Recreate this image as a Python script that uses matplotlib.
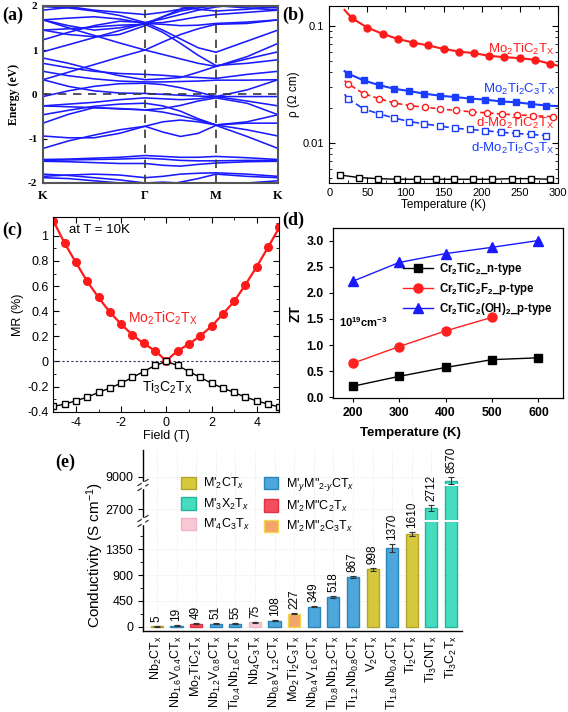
import numpy as np
import matplotlib
matplotlib.use('Agg')
import matplotlib.pyplot as plt
from matplotlib.lines import Line2D
from matplotlib.patches import Patch

plt.rcParams['font.family'] = ['Liberation Sans', 'DejaVu Sans']
plt.rcParams['mathtext.fontset'] = 'custom'
plt.rcParams['mathtext.rm'] = 'Liberation Sans'
plt.rcParams['mathtext.it'] = 'Liberation Sans:italic'
plt.rcParams['mathtext.bf'] = 'Liberation Sans:bold'
plt.rcParams['axes.unicode_minus'] = False

W, H = 568, 712
fig = plt.figure(figsize=(W / 100, H / 100), dpi=100)


def add_ax(l, t, r, b):
    return fig.add_axes([l / W, 1 - b / H, (r - l) / W, (b - t) / H])


SERIF = ['Liberation Serif', 'DejaVu Serif']

# ---------------- (a) band structure ----------------
kpath = [0, 0.1085, 0.217, 0.3255, 0.434, 0.5095, 0.585, 0.6605, 0.736, 0.868, 1.0]
kticks = [0, 0.434, 0.736, 1.0]
klabels = ['K', 'Γ', 'M', 'K']
bands = [
    [1.98, 1.95, 1.88, 1.78, 1.62, 1.70, 1.80, 1.90, 1.97, 2.05, 2.05],
    [1.90, 1.96, 2.05, 2.10, 2.10, 2.05, 1.98, 1.92, 1.88, 1.92, 1.98],
    [2.05, 1.98, 1.90, 1.85, 1.80, 1.85, 1.92, 1.98, 2.02, 1.98, 1.95],
    [1.68, 1.72, 1.75, 1.70, 1.60, 1.62, 1.68, 1.75, 1.80, 1.85, 1.90],
    [1.68, 1.55, 1.45, 1.50, 1.60, 1.58, 1.55, 1.56, 1.60, 1.63, 1.68],
    [1.45, 1.35, 1.30, 1.35, 1.55, 1.75, 1.92, 2.05, 2.10, 2.10, 2.10],
    [1.45, 1.48, 1.52, 1.56, 1.58, 1.40, 1.15, 0.88, 0.65, 0.70, 0.78],
    [1.23, 1.40, 1.55, 1.65, 1.62, 1.45, 1.25, 1.05, 0.95, 1.20, 1.45],
    [0.96, 1.12, 1.28, 1.44, 1.60, 1.75, 1.88, 1.95, 2.00, 1.95, 1.90],
    [1.68, 1.50, 1.33, 1.16, 1.00, 0.90, 0.80, 0.70, 0.63, 0.85, 1.15],
    [0.33, 0.50, 0.67, 0.84, 1.00, 1.18, 1.35, 1.48, 1.58, 1.60, 1.68],
    [0.70, 0.60, 0.52, 0.47, 0.45, 0.43, 0.40, 0.38, 0.36, 0.45, 0.52],
    [0.52, 0.42, 0.35, 0.30, 0.28, 0.28, 0.29, 0.30, 0.32, 0.32, 0.33],
    [0.82, 0.70, 0.55, 0.42, 0.33, 0.35, 0.38, 0.50, 0.63, 0.80, 0.96],
    [-0.05, 0.08, 0.18, 0.24, 0.25, 0.22, 0.15, 0.05, -0.05, 0.10, 0.33],
    [0.33, 0.18, 0.08, 0.03, 0.02, 0.00, -0.02, -0.04, -0.05, -0.05, -0.05],
    [-0.26, -0.22, -0.18, -0.12, -0.08, -0.10, -0.12, -0.10, -0.05, -0.15, -0.26],
    [-0.46, -0.36, -0.27, -0.22, -0.20, -0.26, -0.38, -0.55, -0.69, -0.62, -0.46],
    [-0.26, -0.28, -0.30, -0.33, -0.35, -0.32, -0.25, -0.15, -0.08, -0.20, -0.46],
    [-0.65, -0.45, -0.30, -0.32, -0.35, -0.40, -0.48, -0.58, -0.69, -0.80, -0.94],
    [-1.22, -1.05, -0.92, -0.80, -0.72, -0.85, -0.95, -0.88, -0.70, -0.95, -1.22],
    [-0.94, -0.98, -0.98, -0.88, -0.72, -0.62, -0.58, -0.62, -0.69, -0.65, -0.65],
    [-1.47, -1.46, -1.44, -1.42, -1.38, -1.40, -1.42, -1.42, -1.40, -1.43, -1.47],
    [-1.49, -1.48, -1.47, -1.46, -1.44, -1.46, -1.49, -1.50, -1.50, -1.49, -1.49],
    [-1.51, -1.52, -1.54, -1.56, -1.56, -1.60, -1.62, -1.58, -1.55, -1.52, -1.51],
    [-1.85, -1.82, -1.80, -1.82, -1.88, -1.85, -1.80, -1.78, -1.77, -1.80, -1.85],
    [-1.88, -1.90, -1.95, -2.00, -2.05, -2.05, -1.98, -1.90, -1.80, -1.85, -1.88],
    [-1.80, -1.83, -1.88, -1.93, -2.00, -1.98, -2.00, -2.05, -2.10, -2.00, -1.95],
]

axa = add_ax(43, 5.7, 278, 183)
for b in bands:
    axa.plot(kpath, b, color='#1a1aff', lw=1.15)
axa.set_xlim(0, 1)
axa.set_ylim(-2, 2)
for xv in kticks[1:3]:
    axa.axvline(xv, color='#333333', ls=(0, (5, 4)), lw=1.2)
axa.axhline(0, color='#333344', ls=(0, (5, 4)), lw=1.2)
axa.set_xticks(kticks)
axa.set_xticklabels(klabels, fontfamily=SERIF, fontweight='bold', fontsize=9)
axa.set_yticks([-2, -1, 0, 1, 2])
axa.set_yticklabels(['-2', '-1', '0', '1', '2'], fontfamily=SERIF, fontweight='bold', fontsize=8)
axa.tick_params(axis='y', direction='in', length=3, pad=4)
axa.tick_params(axis='x', length=0, pad=5)
axa.set_ylabel('Energy (eV)', fontfamily=SERIF, fontweight='bold', fontsize=8.5, labelpad=6)
for s in axa.spines.values():
    s.set_color('#555555')
    s.set_linewidth(1.5)

# ---------------- (b) resistivity ----------------
T_b = [30, 50, 70, 90, 110, 130, 150, 170, 190, 210, 230, 250, 270, 290]
rho_mo2tic2 = [0.116, 0.0968, 0.0855, 0.0774, 0.0721, 0.068, 0.0636, 0.0604, 0.0584, 0.0555, 0.054, 0.053, 0.0513, 0.0474]
rho_mo2tic2_ends = [0.137, 0.0457]
T_b2 = [25, 45, 65, 85, 105, 125, 145, 165, 185, 205, 225, 245, 265, 285]
rho_mo2ti2c3 = [0.039, 0.0342, 0.0312, 0.029, 0.0277, 0.0263, 0.0253, 0.0246, 0.0239, 0.0234, 0.0226, 0.0222, 0.0215, 0.0208]
rho_mo2ti2c3_ends = [0.041, 0.0206]
T_b3 = [25, 45, 65, 85, 106, 126, 146, 166, 187, 207, 227, 247, 267, 294]
rho_d_mo2tic2 = [0.0319, 0.0263, 0.0239, 0.0219, 0.0208, 0.0201, 0.0195, 0.0189, 0.0184, 0.018, 0.0176, 0.0173, 0.0171, 0.0167]
rho_d_mo2tic2_start = 0.034
rho_d_mo2ti2c3 = [0.0237, 0.0195, 0.0177, 0.0163, 0.0152, 0.0145, 0.0139, 0.0133, 0.013, 0.0127, 0.0123, 0.012, 0.0118, 0.0115]
rho_d_mo2ti2c3_start = 0.026
T_b4 = [14, 39, 64, 89, 115, 140, 164, 189, 214, 240, 265, 290]
rho_ti3c2 = [0.0053, 0.00503, 0.00493, 0.00487, 0.00487, 0.00487, 0.00487, 0.00487, 0.00487, 0.00493, 0.00493, 0.00487]

RED = '#ff1a1a'
BLUE = '#1a3cff'
axb = add_ax(329.3, 5.7, 557.7, 182.7)
axb.set_yscale('log')
axb.plot([20] + T_b + [300], [rho_mo2tic2_ends[0]] + rho_mo2tic2 + [rho_mo2tic2_ends[1]], color=RED, lw=1.5)
axb.plot(T_b, rho_mo2tic2, 'o', color=RED, ms=5)
axb.plot([20] + T_b2 + [300], [rho_mo2ti2c3_ends[0]] + rho_mo2ti2c3 + [rho_mo2ti2c3_ends[1]], color=BLUE, lw=1.5)
axb.plot(T_b2, rho_mo2ti2c3, 's', color=BLUE, ms=4.5)
axb.plot([20] + T_b3, [rho_d_mo2tic2_start] + rho_d_mo2tic2, color=RED, lw=1.2, ls=(0, (3, 2)))
axb.plot(T_b3, rho_d_mo2tic2, 'o', mfc='white', mec=RED, ms=4.5, mew=1.0)
axb.plot([20] + T_b2, [rho_d_mo2ti2c3_start] + rho_d_mo2ti2c3, color=BLUE, lw=1.2, ls=(0, (4, 2, 1, 2)))
axb.plot(T_b2, rho_d_mo2ti2c3, 's', mfc='white', mec=BLUE, ms=4.2, mew=1.0)
axb.plot(T_b4, rho_ti3c2, color='black', lw=1.0)
axb.plot(T_b4, rho_ti3c2, 's', mfc='white', mec='black', ms=4.2, mew=1.0)
axb.set_xlim(0, 300)
axb.set_ylim(0.00455, 0.149)
axb.set_xticks([0, 50, 100, 150, 200, 250, 300])
axb.set_yticks([0.01, 0.1])
axb.set_yticklabels(['0.01', '0.1'])
axb.tick_params(which='both', direction='in', top=True, right=True, labelsize=8)
axb.tick_params(which='major', length=4)
axb.tick_params(which='minor', length=2)
axb.set_xticks(np.arange(0, 301, 25), minor=True)
axb.set_xlabel('Temperature (K)', fontsize=8.5, labelpad=1)
axb.set_ylabel('ρ (Ω cm)', fontsize=8.5, labelpad=2)
lab_kw = dict(ha='right', va='center', fontsize=9.5)
axb.text(296, 0.0624, 'Mo$_2$TiC$_2$T$_\\mathrm{X}$', color=RED, **lab_kw)
axb.text(296, 0.0285, 'Mo$_2$Ti$_2$C$_3$T$_\\mathrm{X}$', color=BLUE, **lab_kw)
axb.text(296, 0.0146, 'd-Mo$_2$TiC$_2$T$_\\mathrm{X}$', color=RED, **lab_kw)
axb.text(296, 0.0089, 'd-Mo$_2$Ti$_2$C$_3$T$_\\mathrm{X}$', color=BLUE, **lab_kw)
for s in axb.spines.values():
    s.set_linewidth(0.8)

# ---------------- (c) magnetoresistance ----------------
field = [-5, -4.5, -4, -3.5, -3, -2.5, -2, -1.5, -1, -0.5, 0, 0.5, 1, 1.5, 2, 2.5, 3, 3.5, 4, 4.5, 5]
mr_mo2tic2 = [1.12, 0.942, 0.788, 0.637, 0.51, 0.393, 0.297, 0.212, 0.143, 0.085, 0.005,
              0.085, 0.138, 0.204, 0.279, 0.377, 0.478, 0.611, 0.754, 0.908, 1.067]
mr_ti3c2 = [-0.358, -0.34, -0.313, -0.284, -0.247, -0.212, -0.173, -0.127, -0.080, -0.032, 0.0,
            -0.032, -0.080, -0.127, -0.173, -0.212, -0.247, -0.284, -0.313, -0.34, -0.362]

axc = add_ax(53.3, 217, 279.3, 411.7)
axc.axhline(0, color='#333355', ls=(0, (2, 2)), lw=0.8)
axc.plot(field, mr_mo2tic2, '-o', color=RED, lw=1.6, ms=5.5)
axc.plot(field, mr_ti3c2, '-s', color='black', lw=1.0, mfc='white', mec='black', ms=4.5, mew=1.0)
axc.set_xlim(-5, 5)
axc.set_ylim(-0.4, 1.15)
axc.set_xticks([-4, -2, 0, 2, 4])
axc.set_yticks([-0.4, -0.2, 0, 0.2, 0.4, 0.6, 0.8, 1.0])
axc.set_yticklabels(['-0.4', '-0.2', '0', '0.2', '0.4', '0.6', '0.8', '1'])
axc.set_xticks(np.arange(-5, 5.1, 1), minor=True)
axc.set_yticks(np.arange(-0.4, 1.15, 0.1), minor=True)
axc.tick_params(which='both', direction='in', top=True, right=True, labelsize=9)
axc.tick_params(which='major', length=4)
axc.tick_params(which='minor', length=2)
axc.set_xlabel('Field (T)', fontsize=9, labelpad=1)
axc.set_ylabel('MR (%)', fontsize=9, labelpad=2)
axc.text(-4.3, 1.05, 'at T = 10K', fontsize=9.5, va='center', ha='left')
axc.text(-0.15, 0.345, 'Mo$_2$TiC$_2$T$_\\mathrm{X}$', color=RED, fontsize=10, ha='center', va='center')
axc.text(0.05, -0.207, 'Ti$_3$C$_2$T$_\\mathrm{X}$', color='black', fontsize=10, ha='center', va='center')
for s in axc.spines.values():
    s.set_linewidth(0.8)

# ---------------- (d) ZT ----------------
T_d = [200, 300, 400, 500, 600]
zt_n = [0.21, 0.40, 0.57, 0.72, 0.755]
T_d_f = [200, 300, 400, 500]
zt_f = [0.65, 0.97, 1.27, 1.53]
zt_oh = [2.22, 2.58, 2.75, 2.87, 3.0]

axd = add_ax(332.7, 228, 563, 398.3)
axd.plot(T_d, zt_n, '-s', color='black', lw=1.0, ms=6, mec='black', label='Cr$_\\mathbf{2}$TiC$_\\mathbf{2}$_n-type')
axd.plot(T_d_f, zt_f, '-o', color='#ff2020', lw=1.0, ms=6.5, label='Cr$_\\mathbf{2}$TiC$_\\mathbf{2}$F$_\\mathbf{2}$_p-type')
axd.plot(T_d, zt_oh, '-^', color='#1a1aff', lw=1.0, ms=6.5, label='Cr$_\\mathbf{2}$TiC$_\\mathbf{2}$(OH)$_\\mathbf{2}$_p-type')
axd.set_xlim(157, 653)
axd.set_ylim(-0.02, 3.24)
axd.set_xticks([200, 300, 400, 500, 600])
axd.set_yticks([0.0, 0.5, 1.0, 1.5, 2.0, 2.5, 3.0])
axd.set_yticklabels(['0.0', '0.5', '1.0', '1.5', '2.0', '2.5', '3.0'])
axd.tick_params(direction='out', length=3, labelsize=8.8)
for lab in axd.get_xticklabels() + axd.get_yticklabels():
    lab.set_fontweight('bold')
axd.set_ylabel('ZT', fontsize=10, fontweight='bold', labelpad=3)
fig.text(410 / W, 1 - 433 / H, 'Temperature (K)', fontsize=9.5, fontweight='bold', ha='center', va='center')
leg = axd.legend(loc='upper left', bbox_to_anchor=(0.27, 0.855), frameon=False,
                 prop={'weight': 'bold', 'size': 8.3}, handlelength=2.6, labelspacing=0.35,
                 borderpad=0.2, handletextpad=0.5)
axd.text(170, 1.43, '10$^{\\mathbf{19}}$cm$^{\\mathbf{-3}}$', fontsize=8, fontweight='bold', va='center')
for s in axd.spines.values():
    s.set_linewidth(0.9)

# ---------------- (e) conductivity bar chart ----------------
materials = ['Nb$_2$CT$_\\mathrm{x}$', 'Nb$_{1.6}$V$_{0.4}$CT$_\\mathrm{x}$', 'Mo$_2$TiC$_2$T$_\\mathrm{x}$',
             'Nb$_{1.2}$V$_{0.8}$CT$_\\mathrm{x}$', 'Ti$_{0.4}$Nb$_{1.6}$CT$_\\mathrm{x}$', 'Nb$_4$C$_3$T$_\\mathrm{x}$',
             'Nb$_{0.8}$V$_{1.2}$CT$_\\mathrm{x}$', 'Mo$_2$Ti$_2$C$_3$T$_\\mathrm{x}$', 'Nb$_{0.4}$V$_{1.6}$CT$_\\mathrm{x}$',
             'Ti$_{0.8}$Nb$_{1.2}$CT$_\\mathrm{x}$', 'Ti$_{1.2}$Nb$_{0.8}$CT$_\\mathrm{x}$', 'V$_2$CT$_\\mathrm{x}$',
             'Ti$_{1.6}$Nb$_{0.4}$CT$_\\mathrm{x}$', 'Ti$_2$CT$_\\mathrm{x}$', 'Ti$_3$CNT$_\\mathrm{x}$', 'Ti$_3$C$_2$T$_\\mathrm{x}$']
conductivity = [5, 19, 49, 51, 55, 75, 108, 227, 349, 518, 867, 998, 1370, 1610, 2712, 8570]
errors = [3, 4, 8, 6, 8, 10, 8, 8, 6, 10, 18, 28, 75, 40, 35, 400]
groups = ['M2C', 'MMC', 'M2MC2', 'MMC', 'MMC', 'M4C3', 'MMC', 'M2M2C3', 'MMC', 'MMC', 'MMC', 'M2C', 'MMC', 'M2C', 'M3X2', 'M3X2']
group_labels = {
    'M2C': "M'$_2$CT$_x$",
    'M3X2': "M'$_3$X$_2$T$_x$",
    'M4C3': "M'$_4$C$_3$T$_x$",
    'MMC': "M'$_y$M\"$_{2\\text{-}y}$CT$_x$",
    'M2MC2': "M'$_2$M\"C$_2$T$_x$",
    'M2M2C3': "M'$_2$M\"$_2$C$_3$T$_x$",
}
group_face = {'M2C': '#d5c83c', 'M3X2': '#46dcc0', 'M4C3': '#f7c8d4', 'MMC': '#4ea7da',
              'M2MC2': '#f24e5e', 'M2M2C3': '#f2a46a'}
group_edge = {'M2C': '#b3a42a', 'M3X2': '#24b49a', 'M4C3': '#f2b4c4', 'MMC': '#2a84b8',
              'M2MC2': '#e03242', 'M2M2C3': '#f2d84a'}
legend_order = ['M2C', 'M3X2', 'M4C3', 'MMC', 'M2MC2', 'M2M2C3']

axe_b = add_ax(143, 522, 462, 631)
axe_m = add_ax(143, 486, 462, 520)
axe_t = add_ax(143, 450, 462, 484)
xpos = np.arange(len(materials))
faces = [group_face[g] for g in groups]
edges = [group_edge[g] for g in groups]
for ax in (axe_b, axe_m, axe_t):
    ax.set_facecolor('none')
    ax.bar(xpos, conductivity, width=0.62, color=faces, edgecolor=edges, linewidth=1.0, zorder=3)
    ax.errorbar(xpos, conductivity, yerr=errors, fmt='none', ecolor='#333333', elinewidth=0.8,
                capsize=2.2, capthick=0.8, zorder=4)
    ax.set_xlim(-0.71, 15.56)
    ax.grid(True, color='#e2e2e2', ls=':', lw=0.6, zorder=0)
    for side in ('top', 'right'):
        ax.spines[side].set_visible(False)
    ax.spines['left'].set_linewidth(1.0)
    ax.tick_params(axis='y', labelsize=9, length=3.5)
    ax.set_xticks(xpos)

axe_b.set_ylim(-74, 1822)
axe_b.set_yticks([0, 450, 900, 1350])
axe_b.set_yticks([225, 675, 1125, 1575], minor=True)
axe_b.tick_params(axis='y', which='minor', length=2)
axe_b.set_xticklabels(materials, rotation=90, fontsize=9)
axe_b.tick_params(axis='x', length=0, pad=3)
axe_b.spines['bottom'].set_linewidth(1.0)

axe_m.set_ylim(2574, 2974)
axe_m.set_yticks([2700])
axe_t.set_ylim(8200, 11850)
axe_t.set_yticks([9000])
for ax in (axe_m, axe_t):
    ax.spines['bottom'].set_visible(False)
    ax.tick_params(axis='x', length=0, labelbottom=False)

# value labels
for i, v in enumerate(conductivity):
    if v > 5000:
        ax = axe_t
    elif v > 2000:
        ax = axe_m
    else:
        ax = axe_b
    ax.annotate(str(v), (xpos[i], v + errors[i]), xytext=(0, 3), textcoords='offset points',
                rotation=90, ha='center', va='bottom', fontsize=8.5, zorder=5)

# axis break marks
for ypix in (521, 485):
    for dy in (-2.5, 2.5):
        y0 = 1 - (ypix + dy + 3) / H
        y1 = 1 - (ypix + dy - 3) / H
        fig.add_artist(Line2D([(143 - 5) / W, (143 + 5) / W], [y0, y1], color='#333333', lw=0.9))
    fig.add_artist(Line2D([143 / W, 143 / W], [1 - (ypix - 2) / H, 1 - (ypix + 2) / H], color='white', lw=2.5))

fig.text(95 / W, 1 - 555 / H, 'Conductivity (S cm$^{-1}$)', rotation=90, fontsize=11, ha='center', va='center')

handles = [Patch(facecolor=group_face[g], edgecolor=group_edge[g], linewidth=1.0) for g in legend_order]
labels = [group_labels[g] for g in legend_order]
fig.legend(handles, labels, ncol=2, loc='upper left', bbox_to_anchor=(170 / W, 1 - 465 / H), frameon=False,
           fontsize=9, handlelength=1.15, handleheight=1.15, columnspacing=1.1, labelspacing=0.42,
           handletextpad=0.6, borderpad=0.4)

# ---------------- panel labels ----------------
for txt, x, y in [('(a)', 2, 15), ('(b)', 282, 15), ('(c)', 2, 230), ('(d)', 282, 220), ('(e)', 55, 462)]:
    fig.text(x / W, 1 - y / H, txt, fontfamily=SERIF, fontweight='bold', fontsize=13, va='center', ha='left')

fig.savefig('out.png', dpi=100)
